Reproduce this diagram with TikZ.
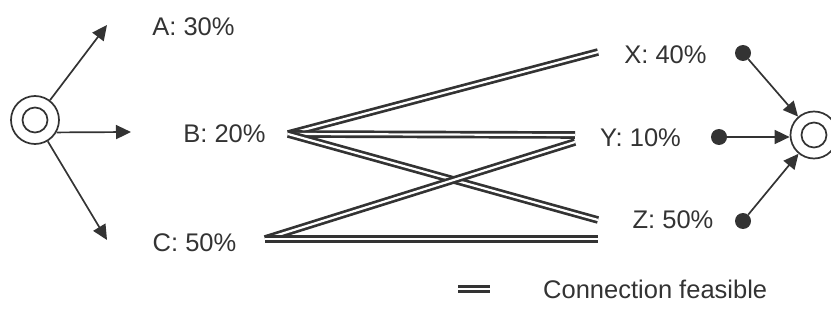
\documentclass[tikz,border=0pt]{standalone}
\usepackage{fontspec}
\setmainfont{Liberation Sans}
\usetikzlibrary{arrows.meta}
\definecolor{ink}{HTML}{333333}
\tikzset{
  lbl/.style={inner sep=0pt, text=ink, font=\fontsize{25.5}{30}\selectfont},
  ring/.style={circle, draw=ink, line width=1.7pt, minimum size=#1, inner sep=0pt},
  arr/.style={draw=ink, line width=1.7pt, -{Triangle[length=15pt,width=14pt]}},
  dotnode/.style={circle, fill=ink, minimum size=16pt, inner sep=0pt},
  link/.style={draw=ink, line width=2.7pt, double=white, double distance=2.2pt},
}
\begin{document}
\begin{tikzpicture}[x=1pt, y=-1pt]
  \path[use as bounding box, clip] (0,0) rectangle (831,329);

  % source and sink
  \node[ring=48pt] (L) at (35,120) {};
  \draw[ink, line width=1.7pt] (L.center) circle (12.5pt);
  \node[ring=47pt] (R) at (814,135) {};
  \draw[ink, line width=1.7pt] (R.center) circle (12.5pt);

  % left shares
  \node[lbl] (A) at (193.5,27) {A: 30\%};
  \node[lbl] (B) at (224.5,134) {B: 20\%};
  \node[lbl] (C) at (194.5,243) {C: 50\%};

  % right shares
  \node[lbl] (X) at (665.5,55) {X: 40\%};
  \node[lbl] (Y) at (640.5,138) {Y: 10\%};
  \node[lbl] (Z) at (673,220) {Z: 50\%};

  % arrows out of the source
  \coordinate (tA) at (107,25);
  \coordinate (tB) at (131,132);
  \coordinate (tC) at (107,240);
  \draw[arr] (L) -- (tA);
  \draw[arr] (L.-30) -- (tB);
  \draw[arr] (L) -- (tC);

  % feasible connections
  \coordinate (Bout) at (288,134);
  \coordinate (Cout) at (265,239);
  \coordinate (XinB) at (598,52);
  \coordinate (YinB) at (575,135);
  \coordinate (YinC) at (575,142);
  \coordinate (ZinB) at (598,220);
  \coordinate (ZinC) at (598,239);
  \draw[link] (Bout) -- (XinB);
  \draw[link] (Bout) -- (YinB);
  \draw[link] (Bout) -- (ZinB);
  \draw[link] (Cout) -- (YinC);
  \draw[link] (Cout) -- (ZinC);

  % arrows into the sink
  \node[dotnode] (dX) at (743,53) {};
  \node[dotnode] (dY) at (719,137) {};
  \node[dotnode] (dZ) at (743,221) {};
  \draw[arr] (dX) -- (R);
  \draw[arr] (dY) -- (R.west |- dY);
  \draw[arr] (dZ) -- (R);

  % legend
  \coordinate (g1) at (458,289);
  \coordinate (g2) at (490,289);
  \draw[link] (g1) -- (g2);
  \node[lbl, anchor=west] (leg) at (543,289) {Connection feasible};
\end{tikzpicture}
\end{document}
